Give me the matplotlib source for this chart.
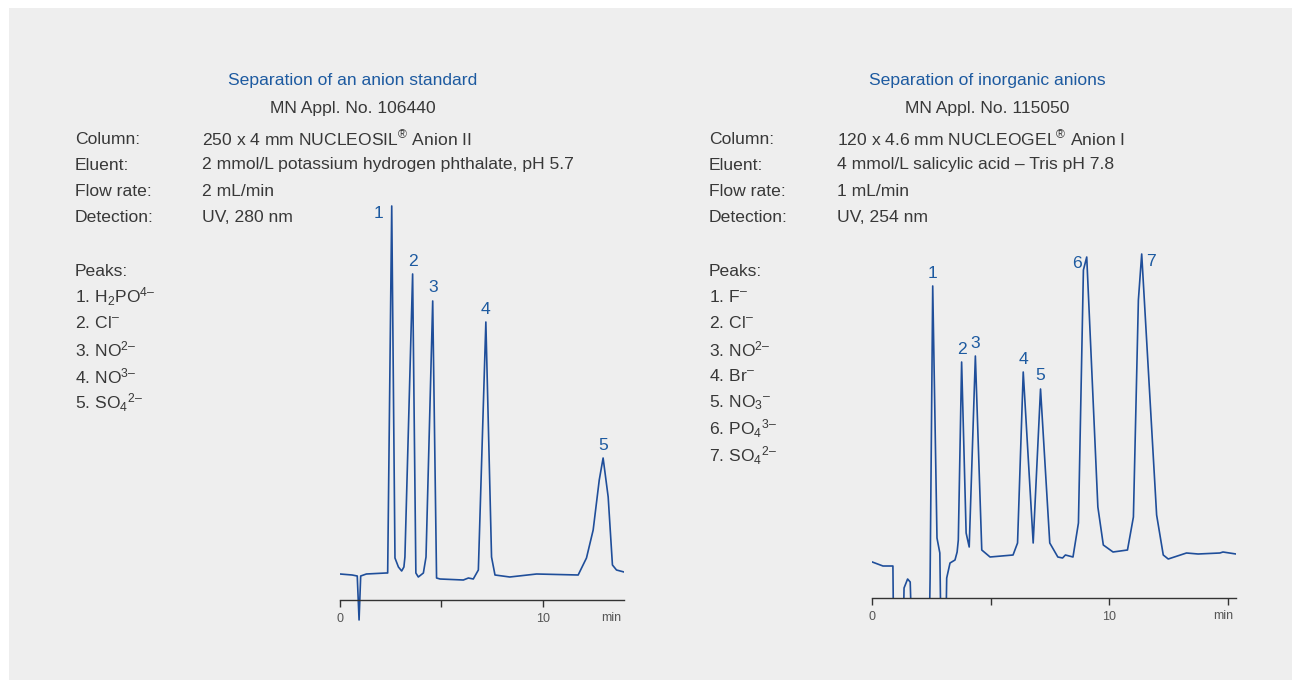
import matplotlib.pyplot as plt
import numpy as np

plt.rcParams['font.family'] = ['Liberation Sans', 'DejaVu Sans']
plt.rcParams['mathtext.fontset'] = 'custom'
plt.rcParams['mathtext.rm'] = 'Liberation Sans'
plt.rcParams['mathtext.default'] = 'regular'

# chromatogram 1 (MN Appl. No. 106440) - time in min, detector signal (arb.)
t_std = [0.0, 0.6, 0.85, 0.94, 1.02, 1.3, 2.27, 2.35, 2.55, 2.71, 2.88, 3.04, 3.15, 3.2,
         3.58, 3.74, 3.86, 4.11, 4.24, 4.57, 4.76, 4.93, 6.08, 6.33, 6.57, 6.82, 7.19,
         7.47, 7.64, 8.37, 9.69, 11.74, 12.15, 12.48, 12.78, 12.97, 13.22, 13.43, 13.63, 14.0]
s_std = [26, 25, 24, -20, 24, 26, 27, 27, 394, 42, 33, 29, 33, 43,
         326, 27, 23, 27, 43, 299, 22, 21, 20, 22, 21, 30, 278,
         43, 25, 23, 26, 25, 42, 70, 120, 142, 103, 35, 30, 28]

# chromatogram 2 (MN Appl. No. 115050)
t_inorg = [0.0, 0.45, 0.87, 0.9, 1.3, 1.34, 1.49, 1.6, 1.67, 2.4, 2.44, 2.55, 2.73, 2.85,
           2.9, 3.1, 3.14, 3.28, 3.49, 3.58, 3.63, 3.77, 3.96, 4.09, 4.35, 4.62, 4.97,
           5.94, 6.13, 6.37, 6.79, 7.1, 7.49, 7.83, 8.03, 8.15, 8.47, 8.7, 8.91, 9.05,
           9.52, 9.75, 10.16, 10.77, 11.02, 11.23, 11.37, 12.0, 12.28, 12.49, 13.26,
           13.75, 14.67, 14.8, 15.35]
s_inorg = [36, 32, 32, -40, -40, 10, 19, 16, -40, -40, 20, 312, 60, 45,
           -40, -40, 20, 35, 38, 46, 58, 236, 65, 51, 242, 48, 41,
           43, 55, 226, 55, 209, 55, 41, 40, 43, 41, 75, 328, 341,
           91, 53, 46, 48, 81, 298, 344, 83, 43, 39, 45,
           44, 45, 46, 44]

peaks_std = [2.55, 3.58, 4.57, 7.19, 12.97]
peaks_inorg = [2.55, 3.77, 4.35, 6.37, 7.1, 9.05, 11.37]

info_std = ['250 x 4 mm NUCLEOSIL$^{®}$ Anion II',
            '2 mmol/L potassium hydrogen phthalate, pH 5.7',
            '2 mL/min', 'UV, 280 nm']
info_inorg = ['120 x 4.6 mm NUCLEOGEL$^{®}$ Anion I',
              '4 mmol/L salicylic acid – Tris pH 7.8',
              '1 mL/min', 'UV, 254 nm']
info_keys = ['Column:', 'Eluent:', 'Flow rate:', 'Detection:']

names_std = ['H$_{2}$PO$^{4–}$', 'Cl$^{–}$', 'NO$^{2–}$', 'NO$^{3–}$', 'SO$_{4}$$^{2–}$']
names_inorg = ['F$^{–}$', 'Cl$^{–}$', 'NO$^{2–}$', 'Br$^{–}$', 'NO$_{3}$$^{–}$',
               'PO$_{4}$$^{3–}$', 'SO$_{4}$$^{2–}$']

W, H = 1292, 680
TXT = '#383838'
BLUE = '#1d5aa0'
LINE = '#1f4e9a'
FS = 12.6

fig = plt.figure(figsize=(W / 100, H / 100), dpi=100)
fig.patch.set_facecolor('white')
fig.patches.append(plt.Rectangle((9 / W, 0), 1, 1 - 8 / H, transform=fig.transFigure,
                                 facecolor='#eeeeee', edgecolor='none', zorder=-10))


def ftext(x, y, s, **kw):
    kw.setdefault('color', TXT)
    kw.setdefault('fontsize', FS)
    fig.text(x / W, 1 - y / H, s, va='center', **kw)


def block(x0, x1, xc, title, appl, info, names):
    ftext(xc, 80, title, ha='center', color=BLUE)
    ftext(xc, 109, appl, ha='center')
    for i, (k, v) in enumerate(zip(info_keys, info)):
        ftext(x0, 139 + 26 * i, k)
        ftext(x1, 139 + 26 * i, v)
    ftext(x0, 271, 'Peaks:')
    for i, n in enumerate(names):
        ftext(x0, 297 + 26.4 * i, '%d. %s' % (i + 1, n))


block(75, 202, 353, 'Separation of an anion standard', 'MN Appl. No. 106440', info_std, names_std)
block(709, 837, 987, 'Separation of inorganic anions', 'MN Appl. No. 115050', info_inorg, names_inorg)


def chrom(rect, t, s, peaks, xmax, ylim, ticks, ticklabels, offsets):
    ax = fig.add_axes(rect)
    ax.set_facecolor('none')
    ax.plot(t, s, color=LINE, lw=1.2)
    ax.set_xlim(0, xmax)
    ax.set_ylim(*ylim)
    for sp in ['top', 'right', 'left']:
        ax.spines[sp].set_visible(False)
    ax.spines['bottom'].set_position(('data', 0))
    ax.spines['bottom'].set_color('#333333')
    ax.spines['bottom'].set_linewidth(1.0)
    ax.set_yticks([])
    ax.set_xticks(ticks, ticklabels)
    ax.tick_params(axis='x', direction='out', length=5, width=1, color='#333333',
                   labelsize=9, labelcolor='#555555', pad=4)
    ax.annotate('min', xy=(1, 0), xycoords=ax.get_yaxis_transform(), xytext=(-3, -18),
                textcoords='offset pixels', ha='right', va='center', fontsize=9,
                color='#555555')
    for i, pt in enumerate(peaks):
        dx, dy = offsets.get(i, (0, 13))
        ax.annotate(str(i + 1), xy=(pt, np.interp(pt, t, s)), xytext=(dx, dy),
                    textcoords='offset pixels', ha='center', va='center',
                    fontsize=FS, color=BLUE)
    return ax


chrom([340 / W, 55 / H, 284 / W, 425 / H], t_std, s_std, peaks_std, 14.0, (-25, 400),
      [0, 5, 10], ['0', '', '10'], {0: (-13, -8)})
chrom([872.3 / W, 82 / H, 363.7 / W, 360 / H], t_inorg, s_inorg, peaks_inorg, 15.35, (0, 360),
      [0, 5, 10, 15], ['0', '', '10', ''], {5: (-10, -7), 6: (9, -7)})

fig.savefig('out.png', dpi=100)
